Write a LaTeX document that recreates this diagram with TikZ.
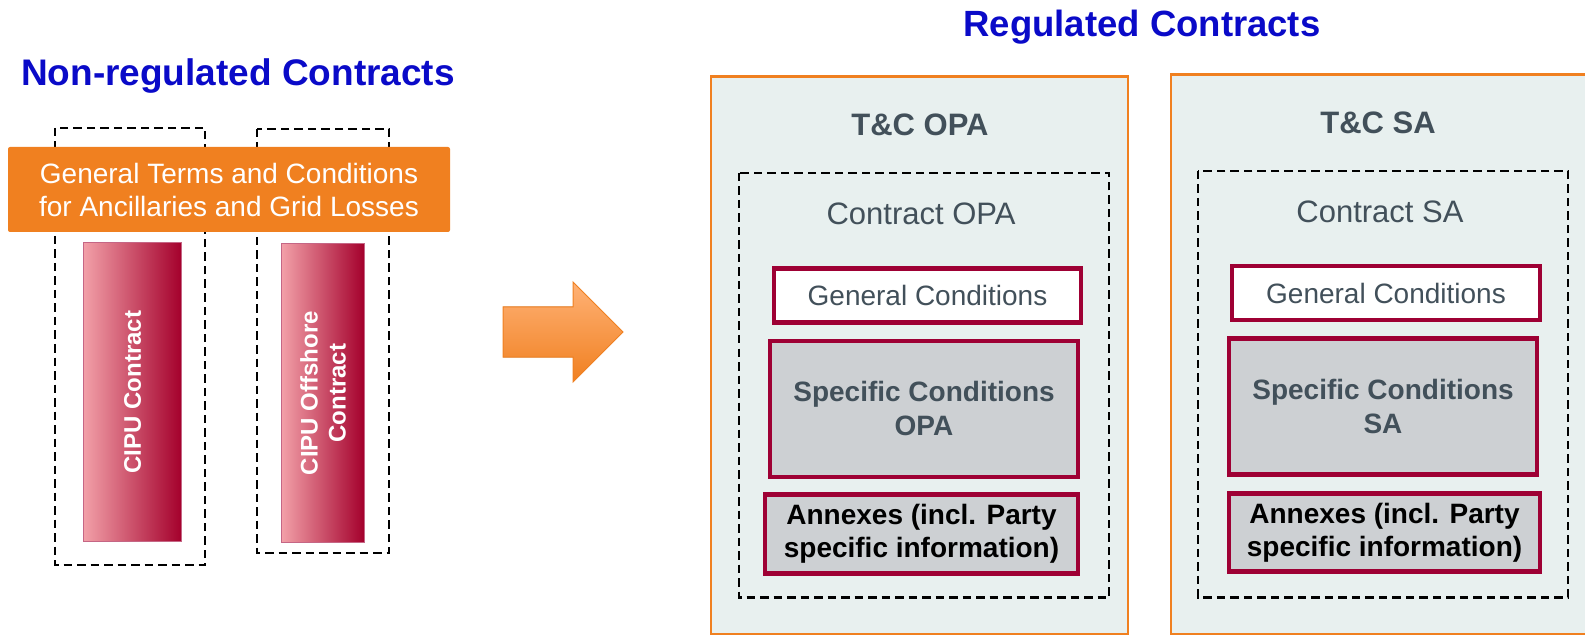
\documentclass[tikz,border=0pt]{standalone}
\usepackage{fontspec}
\setmainfont{Liberation Sans}
\usepackage{xcolor}

\definecolor{titleblue}{RGB}{10,10,200}
\definecolor{tcorange}{RGB}{240,128,32}
\definecolor{arrowlight}{RGB}{255,178,118}
\definecolor{paneltint}{RGB}{232,240,239}
\definecolor{framered}{RGB}{158,0,52}
\definecolor{slategray}{RGB}{66,80,90}
\definecolor{specgray}{RGB}{205,208,211}
\definecolor{barlight}{RGB}{242,160,168}
\definecolor{bardark}{RGB}{164,0,44}

\newcommand{\fsz}[2]{\fontsize{#1}{#2}\selectfont}

\tikzset{
  dashbox/.style={draw=black, line width=2.3pt, dash pattern=on 8.5pt off 5pt},
  panel/.style={draw=tcorange, line width=2.5pt, fill=paneltint},
  condbox/.style={draw=framered, line width=4.5pt, inner sep=0pt, align=center},
  cipubar/.style={draw=framered!60, line width=1pt, left color=barlight, right color=bardark, inner sep=0pt},
  bartext/.style={rotate=90, text=white, align=center, font=\bfseries\fsz{24}{28}}
}

\begin{document}
\begin{tikzpicture}[x=1pt, y=-1pt]
\useasboundingbox (0,0) rectangle (1585,636);

% titles
\node[text=titleblue, font=\bfseries\fsz{37}{44}] (nonreg) at (238,76) {Non-regulated Contracts};
\node[text=titleblue, font=\bfseries\fsz{36.5}{44}] (reg) at (1142,27) {Regulated Contracts};

% non-regulated side
\draw[dashbox] (55,128) rectangle (205,565);
\draw[dashbox] (257,129) rectangle (389,553);
\node[fill=tcorange, rounded corners=2pt, minimum width=442pt, minimum height=85pt, text=white,
  align=center, font=\fsz{28}{33}] (gtc) at (229,189.5)
  {General Terms and Conditions\\for Ancillaries and Grid Losses};
\node[cipubar, minimum width=98pt, minimum height=299pt] (cipu) at (132.5,392) {};
\node[bartext] (cipulabel) at (cipu.center) {CIPU Contract};
\node[cipubar, minimum width=83pt, minimum height=299pt] (offshore) at (323,393) {};
\node[bartext] (offshorelabel) at (offshore.center) {CIPU Offshore\\Contract};

% arrow
\filldraw[draw=tcorange, line width=1pt, top color=arrowlight, bottom color=tcorange]
  (503,307) -- (573,307) -- (573,282) -- (623,332) -- (573,382) -- (573,357) -- (503,357) -- cycle;

% T&C OPA
\draw[panel] (711,76.5) rectangle (1128,634);
\node[text=slategray, font=\bfseries\fsz{31}{37}] (tcopa) at (920,125) {T\&C OPA};
\draw[dashbox] (739,173) rectangle (1109,597.5);
\node[text=slategray, font=\fsz{31}{37}] (copa) at (921,213.6) {Contract OPA};
\node[condbox, fill=white, text=slategray, font=\fsz{28}{34}, minimum width=307pt, minimum height=54pt] (gcopa) at (927.5,295.3) {General Conditions};
\node[condbox, fill=specgray, text=slategray, font=\bfseries\fsz{28}{34}, minimum width=308pt, minimum height=136pt] (scopa) at (924,408.8) {Specific Conditions\\OPA};
\node[condbox, fill=specgray, text=black, font=\bfseries\fsz{28}{33}, minimum width=313pt, minimum height=79pt] (anopa) at (921.5,533.9) {Annexes (incl. Party\\specific information)};

% T&C SA
\draw[panel] (1171,74.3) rectangle (1600,634);
\node[text=slategray, font=\bfseries\fsz{31}{37}] (tcsa) at (1378,123) {T\&C SA};
\draw[dashbox] (1198,170.8) rectangle (1568,597.5);
\node[text=slategray, font=\fsz{31}{37}] (csa) at (1380,211.4) {Contract SA};
\node[condbox, fill=white, text=slategray, font=\fsz{28}{34}, minimum width=308pt, minimum height=54pt] (gcsa) at (1386,293.1) {General Conditions};
\node[condbox, fill=specgray, text=slategray, font=\bfseries\fsz{28}{34}, minimum width=308pt, minimum height=136pt] (scsa) at (1383,406.7) {Specific Conditions\\SA};
\node[condbox, fill=specgray, text=black, font=\bfseries\fsz{28}{33}, minimum width=311pt, minimum height=78pt] (ansa) at (1384.5,532.3) {Annexes (incl. Party\\specific information)};
\end{tikzpicture}
\end{document}
